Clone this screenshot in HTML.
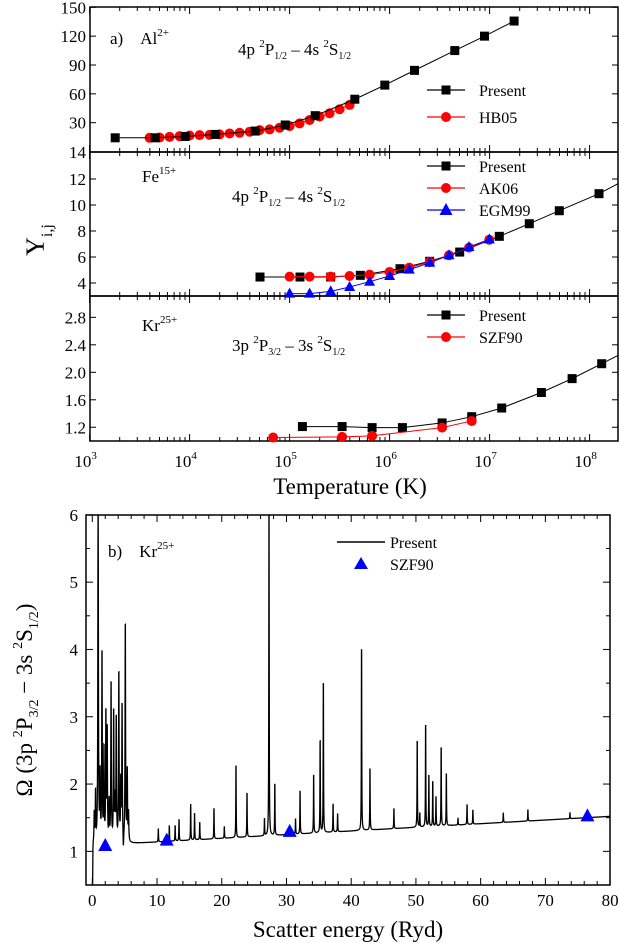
<!DOCTYPE html>
<html><head><meta charset="utf-8">
<style>
html,body{margin:0;padding:0;background:#fff;}
svg{display:block;font-family:"Liberation Serif",serif;}
</style></head>
<body>
<svg id="fig" width="619" height="943" viewBox="0 0 619 943" xmlns="http://www.w3.org/2000/svg"></svg>
<script>
// ---------- data ----------
const alPresentT = [3.256,3.656,3.956,4.256,4.656,4.956,5.256,5.652,5.952,6.249,6.652,6.949,7.245];
const alPresentV = [14.3,14.3,15.7,17.8,21.3,27.6,37.3,54.4,69.1,84.4,105,120,135.7];
const alHB05T = [3.6,3.7,3.8,3.9,4.0,4.1,4.2,4.3,4.4,4.5,4.6,4.7,4.8,4.9,5.0,5.1,5.2,5.3,5.4,5.5,5.6];
const alHB05V = [14.3,14.6,15.3,16.0,16.7,17.1,17.4,17.8,18.8,19.5,20.6,22.3,23.0,24.8,26.5,29.3,32.8,36.3,39.8,44.0,48.5];
const fePresentT = [4.704,5.104,5.411,5.707,6.104,6.401,6.701,7.097,7.397,7.697,8.094,8.30];
const fePresentV = [4.46,4.46,4.46,4.59,5.10,5.67,6.38,7.59,8.56,9.56,10.87,11.64];
const feAK06T = [5.0,5.2,5.411,5.6,5.8,6.0,6.197,6.401,6.594,6.794,6.997];
const feAK06V = [4.49,4.49,4.49,4.54,4.64,4.85,5.18,5.62,6.13,6.72,7.33];
const feEGMT = [5.0,5.2,5.411,5.6,5.8,6.0,6.197,6.401,6.594,6.794,6.997];
const feEGMV = [3.18,3.18,3.36,3.69,4.10,4.54,5.03,5.56,6.13,6.77,7.36];
const krPresentT = [5.128,5.525,5.825,6.128,6.525,6.821,7.121,7.518,7.825,8.121,8.30];
const krPresentV = [1.21,1.21,1.195,1.195,1.263,1.354,1.48,1.706,1.908,2.125,2.246];
const krSZFT = [4.835,5.525,5.825,6.525,6.821];
const krSZFV = [1.051,1.06,1.075,1.195,1.292];
const peakE = [0.3,0.5,0.9,1.2,1.5,1.8,2.1,2.3,2.6,2.9,3.3,3.5,3.7,4.1,4.4,4.6,4.8,5.1,5.4,5.6,10.2,11.9,12.8,13.4,15.2,15.8,16.6,18.8,20.4,22.2,23.9,26.6,27.3,28.2,31.4,32.1,34.2,35.2,35.7,37.2,37.9,41.6,42.9,46.6,50.2,50.6,51.5,52.0,52.6,53.1,53.9,54.7,56.5,57.9,58.8,63.5,67.3,73.8];
const peakV = [1.55,1.85,7,2.1,4.0,2.5,3.05,2.8,1.7,3.55,3.1,1.7,3.0,3.7,2.0,3.2,0.87,4.47,2.2,1.55,1.35,1.4,1.4,1.5,1.75,1.6,1.45,1.68,1.38,2.38,1.93,1.5,7,2.07,1.5,1.96,2.22,2.78,3.73,1.74,1.58,4.29,2.32,1.66,2.77,1.58,3.03,2.2,2.1,1.85,2.66,2.23,1.5,1.72,1.63,1.58,1.63,1.58];
const bgE = [0,3,80];
const bgV = [1.08,1.1,1.52];
const szfE = [2,11.5,30.5,76.5];
const szfV = [1.08,1.16,1.29,1.52];

// ---------- helpers ----------
const NS="http://www.w3.org/2000/svg";
const svg=document.getElementById('fig');
function mk(tag,attrs,parent){const e=document.createElementNS(NS,tag);for(const k in attrs)e.setAttribute(k,attrs[k]);(parent||svg).appendChild(e);return e;}
function txt(x,y,s,size,anchor,parent){const t=mk('text',{x:x,y:y,'font-size':size,'text-anchor':anchor||'start',fill:'#000'},parent);t.innerHTML=s;return t;}

// top axes
const L=90,R=618;
const lx=v=>89.6+(v-3)*100;
const p1y=v=>122.7-(v-30)*0.9617;
const p2y=v=>296-(v-3)*13.0;
const p3y=v=>441-(v-1)*68.7;
const panels=[{y0:7,y1:152,fy:p1y,ticks:[30,60,90,120,150],labels:['30','60','90','120','150']},
              {y0:152,y1:296,fy:p2y,ticks:[4,6,8,10,12],labels:['4','6','8','10','12']},
              {y0:296,y1:441,fy:p3y,ticks:[1.2,1.6,2.0,2.4,2.8],labels:['1.2','1.6','2.0','2.4','2.8']}];
const gTop=mk('g',{});


panels.forEach((p,i)=>{
  const r=mk('rect',{x:L,y:p.y0,width:R-L,height:p.y1-p.y0,fill:'none',stroke:'#000','stroke-width':1.5},gTop);
  
  
  p.ticks.forEach((t,j)=>{const y=p.fy(t);
    mk('line',{x1:L,x2:L+6,y1:y,y2:y,stroke:'#000'},gTop);
    mk('line',{x1:R-6,x2:R,y1:y,y2:y,stroke:'#000'},gTop);
    const tl=txt(L-4,y+6,p.labels[j],17,'end',gTop);
    
    
  });
  for(let d=3;d<=8;d++){for(let m=1;m<=9;m++){const v=d+Math.log10(m);const x=lx(v);if(x>R)continue;
    const len=m===1?7:4;
    mk('line',{x1:x,x2:x,y1:p.y1,y2:p.y1-len,stroke:'#000'},gTop);
    mk('line',{x1:x,x2:x,y1:p.y0,y2:p.y0+len,stroke:'#000'},gTop);}}
});
const b14=txt(L-4,158,'14',17,'end',gTop);


for(let d=3;d<=8;d++){const x=lx(d);const g=txt(x-4,467,'10',17,'middle',gTop);g.innerHTML='10<tspan font-size="11" dy="-8">'+d+'</tspan>';
  
  }

function series(T,V,fx,fy,color,marker,name){
  const g=mk('g',{},gTop);
  
  
  const pts=T.map((t,i)=>[Math.min(fx(t),R),fy(V[i])]);
  mk('polyline',{points:pts.map(p=>p.join(',')).join(' '),fill:'none',stroke:color,'stroke-width':1},g);
  T.forEach((t,i)=>{const x=fx(t),y=fy(V[i]);if(x>R-5)return;let m;
    if(marker==='sq')m=mk('rect',{x:x-4.5,y:y-4.5,width:9,height:9,fill:'#000'},g);
    else if(marker==='c')m=mk('circle',{cx:x,cy:y,r:5,fill:'#f00'},g);
    else m=mk('polygon',{points:`${x},${y-6} ${x-5.5},${y+4} ${x+5.5},${y+4}`,fill:'#00f'},g);
    
    });
}
series(alHB05T,alHB05V,lx,p1y,'#f00','c','al-hb05-series');
series(alPresentT,alPresentV,lx,p1y,'#000','sq','al-present-series');
series(fePresentT,fePresentV,lx,p2y,'#000','sq','fe-present-series');
series(feAK06T,feAK06V,lx,p2y,'#f00','c','fe-ak06-series');
series(feEGMT,feEGMV,lx,p2y,'#00f','t','fe-egm99-series');
series(krPresentT,krPresentV,lx,p3y,'#000','sq','kr-present-series');
series(krSZFT,krSZFV,lx,p3y,'#f00','c','kr-szf90-series');

function legendEntry(y,color,marker,label,name,lineStart,lineEnd,tx){
  const g=mk('g',{},svg);
  
  
  mk('line',{x1:lineStart,x2:lineEnd,y1:y,y2:y,stroke:color,'stroke-width':1.2},g);
  const cx=(lineStart+lineEnd)/2;
  if(marker==='sq')mk('rect',{x:cx-4.5,y:y-4.5,width:9,height:9,fill:'#000'},g);
  else if(marker==='c')mk('circle',{cx:cx,cy:y,r:5,fill:'#f00'},g);
  else if(marker==='t')mk('polygon',{points:`${cx},${y-7} ${cx-6.5},${y+5} ${cx+6.5},${y+5}`,fill:'#00f'},g);
  txt(tx,y+6,label,16,'start',g);
}
legendEntry(90,'#000','sq','Present','legend-al-present',427,465,479);
legendEntry(117,'#f00','c','HB05','legend-al-hb05',427,465,479);
legendEntry(166,'#000','sq','Present','legend-fe-present',427,465,479);
legendEntry(188,'#f00','c','AK06','legend-fe-ak06',427,465,479);
legendEntry(210,'#00f','t','EGM99','legend-fe-egm99',427,465,479);
legendEntry(315,'#000','sq','Present','legend-kr-present',427,465,479);
legendEntry(337,'#f00','c','SZF90','legend-kr-szf90',427,465,479);

function ann(x,y,html,name){const t=txt(x,y,'',17,'start');t.innerHTML=html;
  
  }
ann(110,44,'a)&#160;&#160;&#160;&#160;Al<tspan font-size="11" dy="-8">2+</tspan>','panel-a-label');
ann(238,55,'4p <tspan font-size="11" dy="-8">2</tspan><tspan dy="8">P</tspan><tspan font-size="10" dy="4">1/2</tspan><tspan dy="-4"> – 4s </tspan><tspan font-size="11" dy="-8">2</tspan><tspan dy="8">S</tspan><tspan font-size="10" dy="4">1/2</tspan>','al-transition-label');
ann(142,182,'Fe<tspan font-size="11" dy="-8">15+</tspan>','fe-ion-label');
ann(232,202,'4p <tspan font-size="11" dy="-8">2</tspan><tspan dy="8">P</tspan><tspan font-size="10" dy="4">1/2</tspan><tspan dy="-4"> – 4s </tspan><tspan font-size="11" dy="-8">2</tspan><tspan dy="8">S</tspan><tspan font-size="10" dy="4">1/2</tspan>','fe-transition-label');
ann(142,331,'Kr<tspan font-size="11" dy="-8">25+</tspan>','kr-ion-label');
ann(232,351,'3p <tspan font-size="11" dy="-8">2</tspan><tspan dy="8">P</tspan><tspan font-size="10" dy="4">3/2</tspan><tspan dy="-4"> – 3s </tspan><tspan font-size="11" dy="-8">2</tspan><tspan dy="8">S</tspan><tspan font-size="10" dy="4">1/2</tspan>','kr-transition-label');

const yt=txt(0,0,'',26,'middle');
yt.setAttribute('transform','translate(44,240) rotate(-90)');
yt.innerHTML='Υ<tspan font-size="16" dy="8">i,j</tspan>';


const xt=txt(350,494,'Temperature (K)',23,'middle');



// ---------- bottom chart ----------
const BL=86,BR=610,BT=515,BB=885;
const ex=e=>92.3+e*6.4725;
const oy=v=>BB-(v-0.5)*67.3;
const gB=mk('g',{});


mk('rect',{x:BL,y:BT,width:BR-BL,height:BB-BT,fill:'none',stroke:'#000','stroke-width':1.5},gB);
for(let v=1;v<=6;v++){const y=oy(v);mk('line',{x1:BL,x2:BL+7,y1:y,y2:y,stroke:'#000'},gB);mk('line',{x1:BR-7,x2:BR,y1:y,y2:y,stroke:'#000'},gB);
  const t=txt(BL-8,y+6,String(v),17,'end',gB);
  
  }
for(let v=1.5;v<6;v+=1){const y=oy(v);mk('line',{x1:BL,x2:BL+4,y1:y,y2:y,stroke:'#000'},gB);mk('line',{x1:BR-4,x2:BR,y1:y,y2:y,stroke:'#000'},gB);}
for(let e=0;e<=80;e+=2){const x=ex(e);const len=e%10===0?7:4;
  mk('line',{x1:x,x2:x,y1:BB,y2:BB-len,stroke:'#000'},gB);mk('line',{x1:x,x2:x,y1:BT,y2:BT+len,stroke:'#000'},gB);
  if(e%10===0){const t=txt(x,906,String(e),17,'middle',gB);
    
    }}
function bg(e){if(e<=bgE[1])return bgV[0]+(bgV[1]-bgV[0])*(e-bgE[0])/(bgE[1]-bgE[0]);return bgV[1]+(bgV[2]-bgV[1])*(e-bgE[1])/(bgE[2]-bgE[1]);}
let pts=[[ex(0.05),BB],[ex(0.1),oy(1.05)]];
for(let e=0.15;e<=80;e+=0.02){let v=bg(e);const b=v;
  peakE.forEach((pe,i)=>{const w=pe<6?0.045:0.03;const h=peakV[i]-b;v+=h/(1+((e-pe)/w)**2);});
  pts.push([ex(e),Math.max(BT,oy(Math.min(v,6.2)))]);}
const sp=mk('polyline',{points:pts.map(p=>p[0].toFixed(2)+','+p[1].toFixed(2)).join(' '),fill:'none',stroke:'#000','stroke-width':1.3},gB);


szfE.forEach((e,i)=>{const x=ex(e),y=oy(szfV[i]);const m=mk('polygon',{points:`${x},${y-8} ${x-7},${y+5} ${x+7},${y+5}`,fill:'#00f'},gB);
  
  });
const lg1=mk('g',{});


mk('line',{x1:337,x2:385,y1:542,y2:542,stroke:'#000','stroke-width':1.5},lg1);
txt(390,548,'Present',16,'start',lg1);
const lg2=mk('g',{});


mk('polygon',{points:'361,557 354,569 368,569',fill:'#00f'},lg2);
txt(390,570,'SZF90',16,'start',lg2);
ann(108,557,'b)&#160;&#160;&#160;&#160;Kr<tspan font-size="11" dy="-8">25+</tspan>','panel-b-label');
const yt2=txt(0,0,'',23,'middle');
yt2.setAttribute('transform','translate(32,700) rotate(-90)');
yt2.innerHTML='Ω (3p <tspan font-size="14" dy="-10">2</tspan><tspan dy="10">P</tspan><tspan font-size="14" dy="6">3/2</tspan><tspan dy="-6"> − 3s </tspan><tspan font-size="14" dy="-10">2</tspan><tspan dy="10">S</tspan><tspan font-size="14" dy="6">1/2</tspan><tspan dy="-6">)</tspan>';


const xt2=txt(348,937,'Scatter energy (Ryd)',23,'middle');


</script>
</body></html>
